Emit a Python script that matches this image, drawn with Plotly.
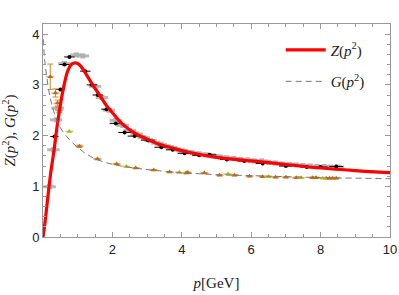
import plotly.graph_objects as go

# Curves
z_curve_p = [0.0, 0.06, 0.13, 0.22, 0.32, 0.41, 0.5, 0.6, 0.7, 0.8, 0.9, 1.0, 1.1, 1.25, 1.43, 1.63, 1.82, 2.0, 2.3, 2.64, 3.0, 3.3, 3.7, 4.2, 5.0, 6.0, 7.0, 8.0, 9.0, 10.0]
z_curve_v = [0.0, 0.3, 0.73, 1.25, 1.72, 2.2, 2.6, 2.97, 3.25, 3.39, 3.43, 3.42, 3.36, 3.2, 3.0, 2.8, 2.6, 2.45, 2.22, 2.05, 1.93, 1.84, 1.76, 1.67, 1.57, 1.5, 1.43, 1.36, 1.31, 1.27]

g_curve_p = [0.01, 0.04, 0.1, 0.19, 0.3, 0.4, 0.55, 0.7, 0.86, 1.05, 1.2, 1.54, 2.1, 3.0, 4.0, 5.0, 6.0, 7.0, 8.0, 9.0, 10.0]
g_curve_v = [3.9, 3.55, 3.2, 2.8, 2.5, 2.3, 2.1, 1.97, 1.85, 1.74, 1.66, 1.53, 1.42, 1.33, 1.27, 1.23, 1.21, 1.19, 1.17, 1.16, 1.15]

# Z lattice data, set 1 (black)
zb_p = [0.33, 0.5, 0.62, 0.76, 1.22, 1.41, 1.58, 1.83, 2.1, 2.35, 2.64, 3.02, 3.41, 3.74, 4.08, 4.5, 4.8, 5.3, 5.8, 6.33, 7.0, 7.6, 8.0, 8.45]
zb_v = [1.98, 2.91, 3.40, 3.55, 3.27, 3.0, 2.8, 2.52, 2.24, 2.06, 1.99, 1.91, 1.77, 1.72, 1.65, 1.61, 1.62, 1.53, 1.5, 1.45, 1.4, 1.38, 1.38, 1.39]
zb_ex = [0.12, 0.12, 0.15, 0.15, 0.15, 0.15, 0.15, 0.15, 0.18, 0.18, 0.2, 0.2, 0.2, 0.2, 0.2, 0.2, 0.2, 0.2, 0.2, 0.2, 0.2, 0.2, 0.2, 0.2]

# Z lattice data, set 2 (gray)
zg_p = [0.19, 0.3, 0.38, 0.42, 0.62, 0.96, 1.15, 1.5, 1.7, 1.9, 2.1, 2.3, 2.5, 2.7, 2.9, 3.1, 3.3, 3.5, 3.7, 3.9, 4.1, 4.3, 4.5, 4.7, 4.9, 5.1, 5.3, 5.5, 5.7, 5.9, 6.1, 6.3, 6.5, 6.7, 6.9, 7.1, 7.3, 7.5, 7.7, 7.9, 8.1, 8.3, 8.5]
zg_v = [0.99, 1.72, 2.31, 2.54, 3.42, 3.59, 3.57, 2.97, 2.75, 2.5, 2.3, 2.2, 2.1, 2.03, 1.96, 1.9, 1.85, 1.8, 1.76, 1.72, 1.69, 1.66, 1.64, 1.62, 1.6, 1.58, 1.56, 1.55, 1.53, 1.52, 1.5, 1.5, 1.47, 1.46, 1.44, 1.43, 1.42, 1.41, 1.4, 1.39, 1.39, 1.38, 1.38]

# G lattice data (orange)
go_p = [0.21, 0.36, 0.42, 0.47, 1.05, 1.57, 2.12, 2.67, 3.19, 3.65, 4.13, 4.17, 4.65, 5.09, 5.52, 5.95, 6.33, 6.7, 7.0, 7.3, 7.77, 7.87, 8.16, 8.26, 8.35, 8.45]
go_v = [3.16, 2.84, 2.64, 2.5, 1.79, 1.54, 1.44, 1.36, 1.32, 1.28, 1.26, 1.27, 1.26, 1.22, 1.22, 1.2, 1.19, 1.18, 1.18, 1.17, 1.17, 1.17, 1.16, 1.16, 1.16, 1.16]
go_ey = [0.25, 0.08, 0.06, 0.05, 0.02, 0.01, 0.01, 0.01, 0.01, 0.01, 0.01, 0.01, 0.01, 0.01, 0.01, 0.01, 0.01, 0.01, 0.01, 0.01, 0.01, 0.01, 0.01, 0.01, 0.01, 0.01]

# G lattice data (yellow-green)
gy_p = [0.76, 2.4, 3.93, 5.33, 6.5, 7.44, 8.06]
gy_v = [2.08, 1.39, 1.27, 1.24, 1.19, 1.17, 1.16]

fig = go.Figure()

fig.add_trace(go.Scatter(x=zg_p, y=zg_v, mode="markers", showlegend=False,
                         marker=dict(symbol="square", size=5, color="#b0b0b0"),
                         error_x=dict(type="constant", value=0.18, color="rgba(170,170,170,0.85)", thickness=3, width=0),
                         error_y=dict(type="constant", value=0.03, color="rgba(170,170,170,0.85)", thickness=1.5, width=0)))
fig.add_trace(go.Scatter(x=zb_p, y=zb_v, mode="markers", showlegend=False,
                         marker=dict(symbol="circle", size=4, color="black"),
                         error_x=dict(type="data", array=zb_ex, color="black", thickness=1, width=0)))
fig.add_trace(go.Scatter(x=go_p, y=go_v, mode="markers", showlegend=False,
                         marker=dict(symbol="triangle-up", size=5, color="#c06a10"),
                         error_x=dict(type="constant", value=0.12, color="rgba(220,160,100,0.8)", thickness=1.5, width=0),
                         error_y=dict(type="data", array=go_ey, color="#d08a30", thickness=1, width=3)))
fig.add_trace(go.Scatter(x=gy_p, y=gy_v, mode="markers", showlegend=False,
                         marker=dict(symbol="triangle-up", size=5, color="#b4b41a"),
                         error_x=dict(type="constant", value=0.12, color="rgba(190,190,80,0.8)", thickness=1.5, width=0)))

fig.add_trace(go.Scatter(x=z_curve_p, y=z_curve_v, mode="lines", line_shape="spline",
                         line=dict(color="#ff0000", width=3.2),
                         name="<i>Z</i>(<i>p</i><sup>2</sup>)", legendgroup="z"))
fig.add_trace(go.Scatter(x=g_curve_p, y=g_curve_v, mode="lines", line_shape="spline",
                         line=dict(color="#777777", width=1, dash="6px,4px"),
                         name="<i>G</i>(<i>p</i><sup>2</sup>)", legendgroup="g"))

axis_common = dict(showgrid=False, zeroline=False, showline=True, linecolor="#999999", linewidth=1,
                   mirror="allticks", ticks="inside", ticklen=5, tickcolor="#999999", automargin=False,
                   tickfont=dict(family="Liberation Sans, Arial, sans-serif", size=13, color="#222"))

fig.update_xaxes(range=[0, 10], tickvals=[2, 4, 6, 8, 10], ticktext=["2", "4", "6", "8", "10"],
                 ticklabeloverflow="allow",
                 minor=dict(dtick=0.5, ticks="inside", ticklen=3, tickcolor="#999999"),
                 title=dict(text="<i>p</i>[GeV]", font=dict(family="Liberation Serif, serif", size=15, color="#222"), standoff=21),
                 **axis_common)
fig.update_yaxes(range=[0, 4.2], tickvals=[0, 1, 2, 3, 4],
                 minor=dict(dtick=0.2, ticks="inside", ticklen=3, tickcolor="#999999"),
                 title=dict(text="<i>Z</i>(<i>p</i><sup>2</sup>), <i>G</i>(<i>p</i><sup>2</sup>)", font=dict(family="Liberation Serif, serif", size=15, color="#222"), standoff=16),
                 **axis_common)

fig.update_layout(width=399, height=295, margin=dict(l=43, r=9, t=24, b=58),
                  plot_bgcolor="white", paper_bgcolor="white",
                  legend=dict(x=0.685, y=0.955, xanchor="left", yanchor="top", bgcolor="rgba(0,0,0,0)",
                              font=dict(family="Liberation Serif, serif", size=15, color="#222"),
                              tracegroupgap=9, itemwidth=40))

fig.write_html("out.html", config={"displayModeBar": False},
               post_script="document.body.style.margin='0';document.documentElement.style.overflow='hidden';document.body.style.overflow='hidden';")
